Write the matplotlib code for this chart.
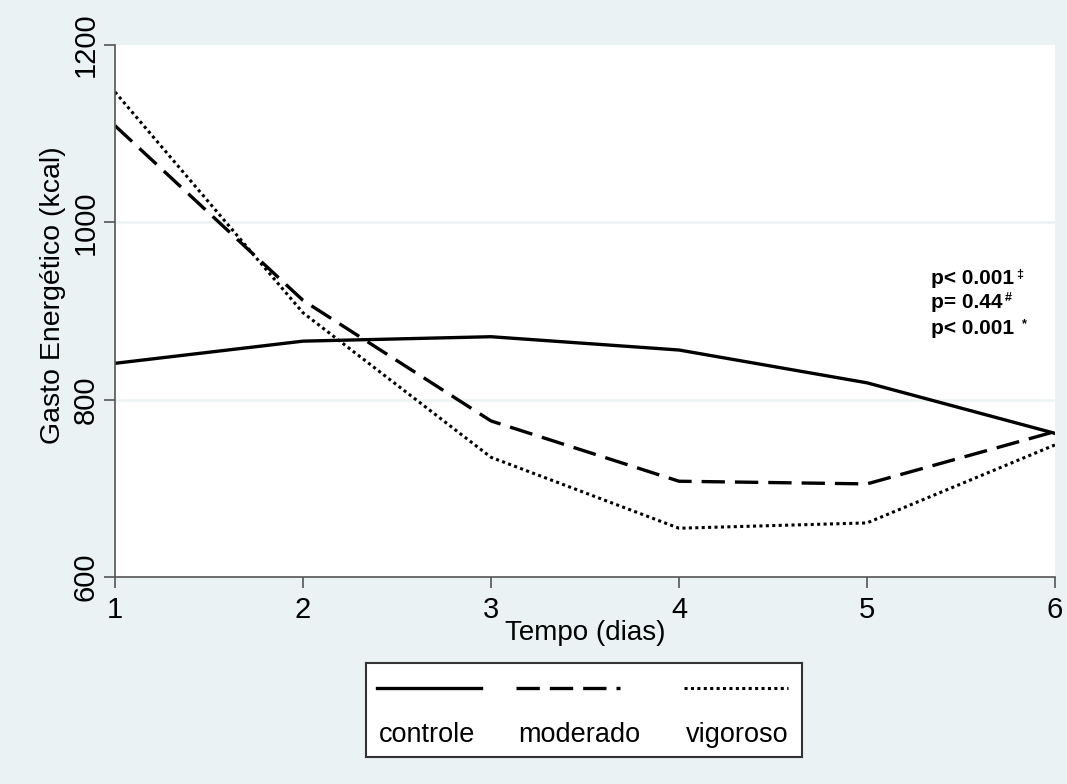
import matplotlib
matplotlib.use("Agg")
import matplotlib.pyplot as plt

plt.rcParams['font.family'] = ['Liberation Sans', 'DejaVu Sans']

days = [1, 2, 3, 4, 5, 6]
controle = [841, 866, 871, 856, 819, 762]
moderado = [1109, 912, 776, 708, 705, 764]
vigoroso = [1147, 898, 735, 655, 661, 749]
series_names = ["controle", "moderado", "vigoroso"]
yticks = [600, 800, 1000, 1200]
p_texts = ["p< 0.001", "p= 0.44", "p< 0.001 "]
p_marks = ["\u2021", "#", "*"]

bg = "#EAF2F3"
fig = plt.figure(figsize=(10.67, 7.84), dpi=100, facecolor=bg)
ax = fig.add_axes([115/1067, 1-577/784, (1055-115)/1067, (577-45)/784])
ax.set_facecolor("white")

styles = [dict(ls="-", lw=2.4), dict(ls=(0, (7, 3)), lw=2.4), dict(ls=(0, (1, 1.1)), lw=2.2)]
for vals, st in zip([controle, moderado, vigoroso], styles):
    ax.plot(days, vals, color="black", **st)

ax.set_xlim(1, 6)
ax.set_ylim(600, 1200)
ax.set_xticks(days)
ax.set_yticks(yticks)
for y in [800, 1000]:
    ax.axhline(y, color=bg, lw=1.8, zorder=0)
ax.set_yticklabels([str(v) for v in yticks], rotation=90, va="center", fontsize=21)
ax.set_xticklabels([str(d) for d in days], fontsize=21)
ax.tick_params(axis="both", direction="out", length=8, width=1.2, color="#555555", pad=3)
ax.tick_params(axis="x", pad=6)
for s in ["top", "right"]:
    ax.spines[s].set_visible(False)
for s in ["left", "bottom"]:
    ax.spines[s].set_color("#555555")
    ax.spines[s].set_linewidth(1.2)
ax.set_xlabel("Tempo (dias)", fontsize=20, labelpad=-3)
ax.set_ylabel("Gasto Energético (kcal)", fontsize=20.5)
ax.yaxis.set_label_coords(-0.052, 0.53)

fig.canvas.draw()
for t, m, yy in zip(p_texts, p_marks, [1 - 279/784, 1 - 302/784, 1 - 328/784]):
    txt = fig.text(931/1067, yy, t, fontsize=15, fontweight="bold", ha="left", va="center")
    ax.annotate(m, xy=(1, 1.02), xycoords=txt, xytext=(1.5, 0), textcoords="offset points",
                fontsize=9, fontweight="bold", ha="left", va="top")

# legend box
lax = fig.add_axes([366/1067, 1-757/784, (802-366)/1067, (757-663)/784])
lax.set_facecolor("white")
lax.set_xlim(0, 436)
lax.set_ylim(94, 0)
lax.set_xticks([])
lax.set_yticks([])
for s in lax.spines.values():
    s.set_color("#333333")
    s.set_linewidth(1.5)
starts = [11, 150, 318]
for x0, name, st in zip(starts, series_names, styles):
    lax.plot([x0, x0 + 104], [25, 25], color="black", **st)
    lax.text(x0 + 2, 72, name, fontsize=19.5, ha="left", va="center")

fig.savefig("out.png", dpi=100, facecolor=bg)
